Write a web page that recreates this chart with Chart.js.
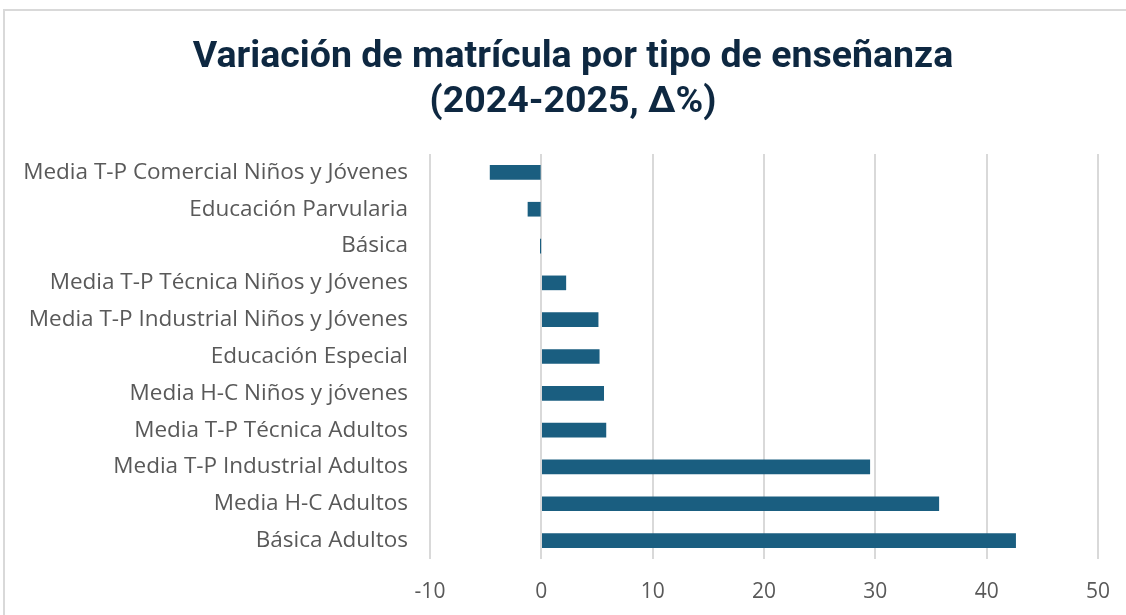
<!DOCTYPE html>
<html>
<head>
<meta charset="utf-8">
<script src="https://cdn.jsdelivr.net/npm/chart.js@4.4.1/dist/chart.umd.min.js"></script>
<style>
  html, body { margin: 0; padding: 0; background: #ffffff; overflow: hidden; width: 1126px; height: 615px; }
  #frame { position: absolute; left: 3px; top: 9px; width: 1140px; height: 640px; border: 2px solid #d9d9d9; box-sizing: border-box; }
  #wrap { position: absolute; left: 0; top: 0; width: 1146px; height: 615px; }
</style>
</head>
<body>
<div id="frame"></div>
<div id="wrap"><canvas id="c" width="1146" height="615"></canvas></div>
<script>
const categories = [
  "Media T-P Comercial Niños y Jóvenes",
  "Educación Parvularia",
  "Básica",
  "Media T-P Técnica Niños y Jóvenes",
  "Media T-P Industrial Niños y Jóvenes",
  "Educación Especial",
  "Media H-C Niños y jóvenes",
  "Media T-P Técnica Adultos",
  "Media T-P Industrial Adultos",
  "Media H-C Adultos",
  "Básica Adultos"
];
const variation = [-4.6, -1.2, -0.05, 2.2, 5.1, 5.2, 5.6, 5.8, 29.5, 35.7, 42.6];
const titleLines = ["Variación de matrícula por tipo de enseñanza", "(2024-2025, Δ%)"];
const xMin = -10, xMax = 50, xStep = 10;

const CANVAS_W = 1146, PLOT_RIGHT = 1098;
const PLOT_LEFT = 430, PLOT_BOTTOM = 559;

new Chart(document.getElementById('c'), {
  type: 'bar',
  data: {
    labels: categories,
    datasets: [{
      data: variation,
      backgroundColor: '#1a5e80',
      borderWidth: 0,
      barThickness: 14,
      yAxisID: 'y'
    }]
  },
  options: {
    indexAxis: 'y',
    responsive: false,
    animation: false,
    layout: { padding: 0 },
    plugins: {
      legend: { display: false },
      tooltip: { enabled: false },
      title: {
        display: true,
        text: titleLines,
        color: '#0e2841',
        font: { family: 'Roboto', size: 37.5, weight: 'bold', lineHeight: 1.2 },
        padding: { top: 35, bottom: 29 }
      }
    },
    scales: {
      x: {
        type: 'linear',
        min: xMin, max: xMax,
        ticks: { stepSize: xStep, color: '#595959', font: { family: 'Open Sans', size: 21 }, padding: 20 },
        grid: { color: '#d9d9d9', lineWidth: 2, drawTicks: false },
        border: { display: false },
        afterFit: (s) => { s.height = 615 - PLOT_BOTTOM; s.paddingLeft = 0; s.paddingRight = 0; }
      },
      y: {
        ticks: { color: '#595959', font: { family: 'Open Sans', size: 22.5 }, padding: 22, autoSkip: false },
        grid: { display: false, drawTicks: false },
        border: { display: false },
        afterFit: (s) => { s.width = PLOT_LEFT; s.paddingTop = 0; s.paddingBottom = 0; }
      },
      yRight: {
        type: 'category',
        axis: 'y',
        position: 'right',
        labels: categories,
        ticks: { display: false },
        grid: { display: false, drawTicks: false },
        border: { display: false },
        afterFit: (s) => { s.width = CANVAS_W - PLOT_RIGHT; s.paddingTop = 0; s.paddingBottom = 0; }
      }
    }
  }
});
</script>
</body>
</html>
